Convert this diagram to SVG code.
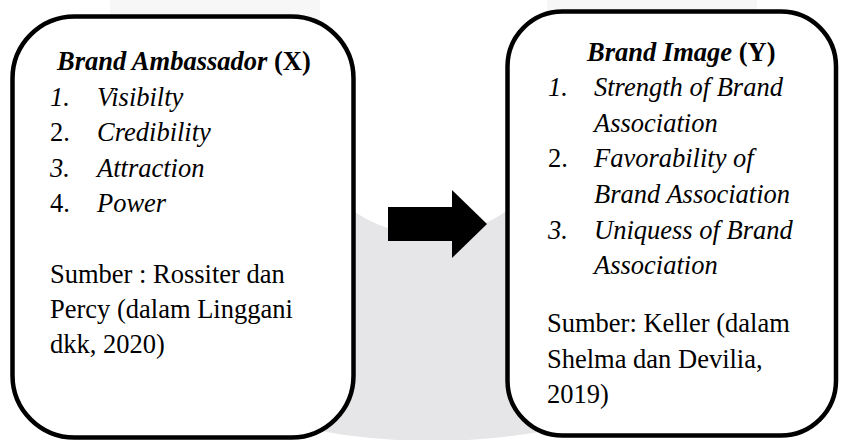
<svg xmlns="http://www.w3.org/2000/svg" width="841" height="440" viewBox="0 0 841 440">
<style>
.box{fill:#ffffff;stroke:#000000;stroke-width:4.5}
text{font-family:'Liberation Serif','Times New Roman',Times,'DejaVu Serif',serif;font-size:26.5px;fill:#000000}
.bi{font-weight:bold;font-style:italic}
.b{font-weight:bold}
.i{font-style:italic}
</style>
<g id="watermark">
<rect x="110" y="0" width="210" height="20" fill="#f7f7f7"/>
<rect x="547" y="0" width="210" height="16" fill="#f7f7f7"/>
<path d="M290 150 H575 V425 Q432 457 290 425 Z" fill="#e6e6e8"/>
<circle cx="430" cy="101" r="134" fill="#ffffff"/>
</g>
<g id="connectors">
<polygon points="388,207 452,207 452,190 487,224 452,258 452,241 388,241" fill="#000000"/>
</g>
<g id="node-x" font-family="Liberation Serif, Times New Roman, serif" font-size="26.5">
<rect class="box" x="12.5" y="16.5" width="341" height="421" rx="62" ry="62"/>
<text x="57" y="70"><tspan class="bi">Brand Ambassador</tspan><tspan class="b"> (X)</tspan></text>
<text class="i" x="50" y="106">1.</text><text class="i" x="97" y="106">Visibilty</text>
<text x="50" y="141">2.</text><text class="i" x="97" y="141">Credibility</text>
<text class="i" x="50" y="177">3.</text><text class="i" x="97" y="177">Attraction</text>
<text x="50" y="212">4.</text><text class="i" x="97" y="212">Power</text>
<text x="50" y="283">Sumber : Rossiter dan</text>
<text x="50" y="318">Percy (dalam Linggani</text>
<text x="50" y="353">dkk, 2020)</text>
</g>
<g id="node-y" font-family="Liberation Serif, Times New Roman, serif" font-size="26.5">
<rect class="box" x="507.5" y="11.5" width="328.5" height="424" rx="55" ry="55"/>
<text x="587" y="61"><tspan class="bi">Brand Image</tspan><tspan class="b"> (Y)</tspan></text>
<text class="i" x="548" y="96">1.</text><text class="i" x="594" y="96">Strength of Brand</text>
<text class="i" x="594" y="132">Association</text>
<text x="548" y="167">2.</text><text class="i" x="594" y="167">Favorability of</text>
<text class="i" x="594" y="203">Brand Association</text>
<text class="i" x="548" y="239">3.</text><text class="i" x="594" y="239">Uniquess of Brand</text>
<text class="i" x="594" y="274">Association</text>
<text x="547" y="332">Sumber: Keller (dalam</text>
<text x="547" y="368">Shelma dan Devilia,</text>
<text x="547" y="403">2019)</text>
</g>
</svg>
